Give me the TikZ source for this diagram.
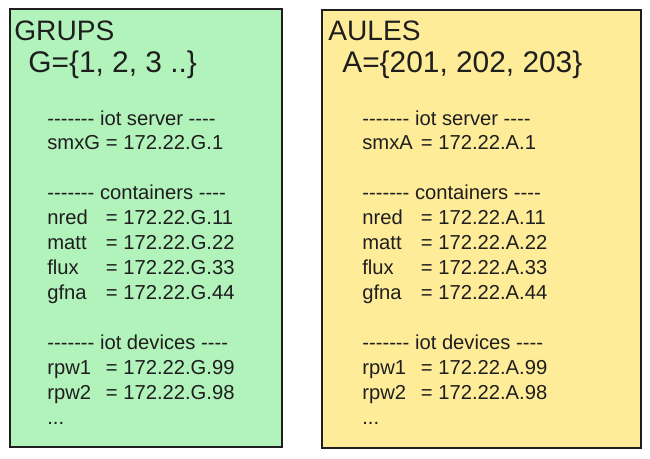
\documentclass[tikz,border=0pt]{standalone}
\usepackage{fontspec}
\newfontfamily\handfont{Liberation Sans}
\usetikzlibrary{positioning}

\definecolor{grupsfill}{HTML}{B2F2BB}
\definecolor{aulesfill}{HTML}{FFEC99}
\definecolor{ink}{HTML}{1E1E1E}

% one "name = address" row, names padded so the = line up
\newcommand{\hostrow}[2]{\makebox[2.9em][l]{#1}= #2}
% the address plan of one set (#1 = G or A)
\newcommand{\hostplan}[1]{%
------- iot server ----\\
\hostrow{smx#1}{172.22.#1.1}\\[14.2pt]
------- containers ----\\
\hostrow{nred}{172.22.#1.11}\\
\hostrow{matt}{172.22.#1.22}\\
\hostrow{flux}{172.22.#1.33}\\
\hostrow{gfna}{172.22.#1.44}\\[14.2pt]
------- iot devices ----\\
\hostrow{rpw1}{172.22.#1.99}\\
\hostrow{rpw2}{172.22.#1.98}\\
...}

\begin{document}
\begin{tikzpicture}[
    x=0.02cm, y=-0.02cm,
    setbox/.style={draw=ink, line width=1pt, rectangle, minimum height=8.76cm, inner sep=0pt},
    settitle/.style={anchor=base west, inner sep=0pt, text=ink, font=\handfont\fontsize{16}{19}\selectfont},
    setdef/.style={anchor=base west, inner sep=0pt, text=ink, font=\handfont\fontsize{17}{20}\selectfont},
    plan/.style={anchor=north west, inner sep=0pt, text=ink, align=left, font=\handfont\fontsize{11.5}{14.2}\selectfont}
]
\useasboundingbox (0,0) rectangle (650,458);

% Groups
\node[setbox, fill=grupsfill, minimum width=5.44cm] (grups) at (146,228) {};
\node[settitle] (grupsname) at (14,40) {GRUPS};
\node[setdef] (grupsset) at (28,72) {G=\{1, 2, 3 ..\}};
\node[plan] (grupsplan) at (47,110) {\hostplan{G}};

% Classrooms
\node[setbox, fill=aulesfill, minimum width=6.38cm] (aules) at (481.5,229) {};
\node[settitle] (aulesname) at (328,40) {AULES};
\node[setdef] (aulesset) at (342,72) {A=\{201, 202, 203\}};
\node[plan] (aulesplan) at (362,110) {\hostplan{A}};
\end{tikzpicture}
\end{document}
